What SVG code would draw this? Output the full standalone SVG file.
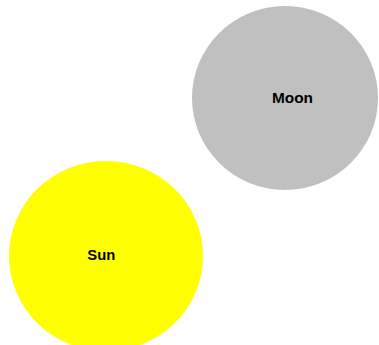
<svg xmlns="http://www.w3.org/2000/svg" width="379" height="345" viewBox="0 0 379 345">
<style>
.lbl{font-family:"Liberation Sans",Arial,sans-serif;font-weight:bold;font-size:14px;fill:#000;text-anchor:middle}
</style>
<rect width="379" height="345" fill="#fff"/>
<g id="moon">
<ellipse cx="285" cy="98" rx="93" ry="92" fill="#c0c0c0"/>
<text class="lbl" x="292.5" y="103" textLength="41" lengthAdjust="spacingAndGlyphs">Moon</text>
</g>
<g id="sun">
<ellipse cx="106" cy="256" rx="97" ry="95" fill="#ffff00"/>
<text class="lbl" x="101.3" y="260" textLength="28" lengthAdjust="spacingAndGlyphs">Sun</text>
</g>
<g id="connectors"/>
</svg>
